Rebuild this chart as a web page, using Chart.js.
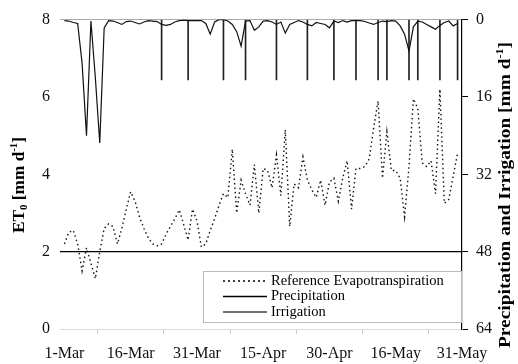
<!DOCTYPE html>
<html>
<head>
<meta charset="utf-8">
<script src="https://cdn.jsdelivr.net/npm/chart.js@4.4.0/dist/chart.umd.min.js"></script>
<style>
  html, body { margin: 0; padding: 0; background: #fff; }
</style>
</head>
<body>
<canvas id="chartEt" width="518" height="364"></canvas>
<script>
// x axis: day index from 1-Mar
const tickDays = [0, 15, 30, 45, 60, 75, 90];
const tickLabels = ['1-Mar', '16-Mar', '31-Mar', '15-Apr', '30-Apr', '16-May', '31-May'];

// daily reference evapotranspiration, mm/d
const etValues = [
  2.2, 2.5, 2.55, 2.2, 1.5, 2.1, 1.7, 1.3, 2.0, 2.6,
  2.72, 2.65, 2.2, 2.6, 3.1, 3.55, 3.3, 2.9, 2.6, 2.35,
  2.2, 2.15, 2.2, 2.45, 2.65, 2.85, 3.08, 2.7, 2.3, 3.1,
  2.8, 2.12, 2.2, 2.55, 2.85, 3.2, 3.5, 3.4, 4.65, 3.0,
  3.85, 3.5, 3.2, 4.25, 3.0, 4.15, 4.1, 3.65, 4.5, 3.45,
  5.15, 2.65, 3.75, 3.65, 4.45, 3.85, 3.6, 3.4, 3.85, 3.2,
  3.8, 3.9, 3.3, 3.9, 4.35, 3.1, 4.15, 4.15, 4.2, 4.4,
  5.2, 5.9, 3.9, 5.1, 4.1, 4.1, 3.9, 2.9, 4.2, 5.95,
  5.7, 4.3, 4.2, 4.35, 3.5, 6.2, 3.25, 3.35, 3.95, 4.55
];

// daily precipitation, mm/d (right axis, reversed)
const precipValues = [
  0.2, 0.3, 0.6, 0.8, 9, 24, 0.3, 12, 25.5, 1.7,
  0.2, 0.3, 0.6, 1.0, 0.4, 0.3, 0.6, 0.9, 0.5, 0.2,
  0.3, 0.4, 1.0, 1.2, 1.0, 0.5, 0.2, 0.1, 0.2, 0.2,
  0.2, 0.2, 0.8, 3.0, 0.5, 0, 0, 0.3, 1.0, 2.5,
  5.5, 0.3, 0.2, 2.2, 1.5, 0.3, 0.2, 0.5, 1.0, 0.5,
  2.8, 1.0, 0.6, 0.2, 0.5, 1.0, 1.3, 0.6, 0.8, 1.0,
  1.7, 0.3, 0.6, 0.2, 0.5, 0.2, 0.2, 0.2, 0.4, 0.7,
  1.0, 0.6, 0.3, 0.4, 0.2, 0.3, 1.3, 3.0, 6.5, 1.5,
  0.3, 0.5, 1.0, 1.5, 2.0, 1.2, 0.6, 0.3, 1.3, 0.8
];

// irrigation events
const irrigationDays = [22, 28, 36, 41, 48, 55, 61, 66, 71, 73, 78, 80, 85, 89];
const irrigationValues = [12.5, 12.5, 12.5, 12.5, 12.5, 12.5, 12.5, 12.5, 12.5, 12.5, 12.5, 12.5, 12.5, 12.5];

const serif = "'Liberation Serif', 'Times New Roman', serif";

// draws rotated axis title with sub/superscript parts, stretched to a given length
function drawRichTitle(ctx, parts, cx, cy, size, length) {
  const small = Math.round(size * 0.65);
  ctx.save();
  ctx.translate(cx, cy);
  ctx.rotate(-Math.PI / 2);
  let total = 0;
  parts.forEach(p => {
    ctx.font = 'bold ' + (p[1] ? small : size) + 'px ' + serif;
    total += ctx.measureText(p[0]).width;
  });
  ctx.scale(length / total, 1);
  let x = -total / 2;
  ctx.fillStyle = '#000';
  ctx.textBaseline = 'middle';
  parts.forEach(p => {
    ctx.font = 'bold ' + (p[1] ? small : size) + 'px ' + serif;
    let dy = 0;
    if (p[1] === 'sub') dy = size * 0.3;
    if (p[1] === 'sup') dy = -size * 0.35;
    ctx.fillText(p[0], x, dy);
    x += ctx.measureText(p[0]).width;
  });
  ctx.restore();
}

const titlesPlugin = {
  id: 'titles',
  afterDraw(chart) {
    const ctx = chart.ctx;
    drawRichTitle(ctx, [['ET', ''], ['0', 'sub'], [' [mm d', ''], ['-1', 'sup'], [']', '']], 20, 185, 16, 96);
    drawRichTitle(ctx, [['Precipitation and Irrigation [mm d', ''], ['-1', 'sup'], [']', '']], 506, 195, 16, 306);
  }
};

const boxLegendPlugin = {
  id: 'boxLegend',
  afterDraw(chart) {
    const ctx = chart.ctx;
    const x0 = 203, y0 = 271, w = 258, h = 51;
    ctx.save();
    ctx.fillStyle = '#fff';
    ctx.fillRect(x0, y0, w, h);
    ctx.strokeStyle = '#bbb';
    ctx.lineWidth = 1;
    ctx.strokeRect(x0 + 0.5, y0 + 0.5, w, h);
    ctx.font = '14.5px ' + serif;
    ctx.textBaseline = 'middle';
    chart.data.datasets.forEach((ds, i) => {
      const y = y0 + 10 + i * 15.5;
      ctx.strokeStyle = ds.legendColor || '#000';
      ctx.lineWidth = 1.5;
      ctx.setLineDash(i === 0 ? [2, 3] : []);
      ctx.beginPath();
      ctx.moveTo(x0 + 20, y);
      ctx.lineTo(x0 + 64, y);
      ctx.stroke();
      ctx.setLineDash([]);
      ctx.fillStyle = '#000';
      ctx.fillText(ds.label, x0 + 68, y);
    });
    ctx.restore();
  }
};

const ctx = document.getElementById('chartEt').getContext('2d');
new Chart(ctx, {
  type: 'line',
  data: {
    datasets: [
      {
        label: 'Reference Evapotranspiration',
        data: etValues.map((v, i) => ({ x: i, y: v })),
        yAxisID: 'y',
        borderColor: '#111',
        borderWidth: 1.4,
        borderDash: [1.5, 3],
        pointRadius: 0,
        tension: 0
      },
      {
        label: 'Precipitation',
        data: precipValues.map((v, i) => ({ x: i, y: v })),
        yAxisID: 'y2',
        borderColor: '#111',
        borderWidth: 1.2,
        pointRadius: 0,
        tension: 0
      },
      {
        type: 'bar',
        label: 'Irrigation',
        data: irrigationDays.map((d, i) => ({ x: d, y: irrigationValues[i] })),
        yAxisID: 'y2',
        backgroundColor: '#222',
        borderWidth: 0,
        barThickness: 1,
        legendColor: '#444'
      }
    ]
  },
  options: {
    responsive: false,
    animation: false,
    layout: { padding: { top: 18, left: 0, right: 0, bottom: 0 } },
    plugins: {
      legend: { display: false },
      tooltip: { enabled: false }
    },
    scales: {
      x: {
        type: 'linear',
        min: -1,
        max: 90,
        offset: false,
        afterBuildTicks: axis => { axis.ticks = tickDays.map(v => ({ value: v })); },
        afterFit: s => { s.height = 35; },
        ticks: {
          callback: (v, i) => tickLabels[i],
          autoSkip: false,
          maxRotation: 0,
          padding: 10,
          color: '#111',
          font: { family: serif, size: 16 }
        },
        grid: { drawOnChartArea: false, drawTicks: true, tickLength: 5, color: '#ccc' },
        border: { color: '#ddd' }
      },
      y: {
        position: 'left',
        min: 0,
        max: 8,
        afterFit: s => { s.width = 60; },
        ticks: {
          stepSize: 2,
          padding: 10,
          color: '#111',
          font: { family: serif, size: 16 }
        },
        grid: {
          drawTicks: false,
          color: c => c.tick.value === 2 ? '#000' : (c.tick.value === 8 ? '#aaa' : 'rgba(0,0,0,0)'),
          lineWidth: c => c.tick.value === 2 ? 1.3 : 1
        },
        border: { display: false }
      },
      y2: {
        position: 'right',
        reverse: true,
        min: 0,
        max: 64,
        afterFit: s => { s.width = 56; },
        ticks: {
          stepSize: 16,
          padding: 8,
          color: '#111',
          font: { family: serif, size: 16 }
        },
        grid: { drawOnChartArea: false, drawTicks: true, tickLength: 6, color: '#000' },
        border: { color: '#000', width: 1.2 }
      }
    }
  },
  plugins: [titlesPlugin, boxLegendPlugin]
});
</script>
</body>
</html>
